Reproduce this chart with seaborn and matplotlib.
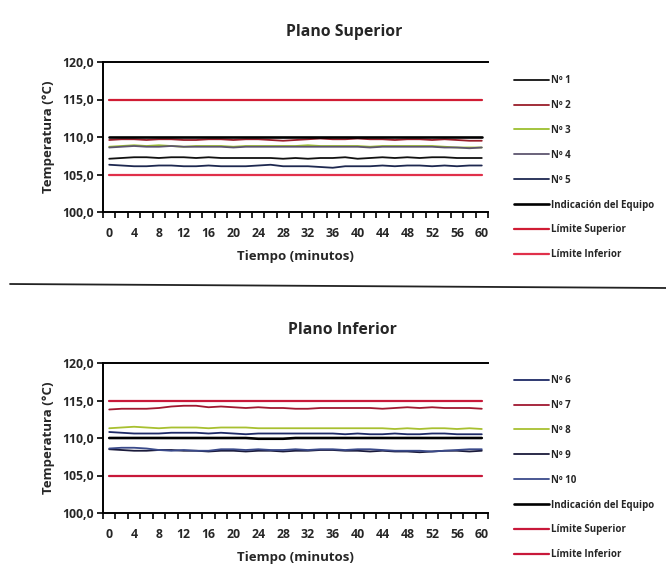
import numpy as np
import pandas as pd
import matplotlib
matplotlib.use("Agg")
import matplotlib.pyplot as plt
import seaborn as sns

# ---------------- data ----------------
minutos = list(range(0, 61, 2))  # 31 categories
tick_labels = [str(m) for m in range(0, 61, 4)]
y_ticks = [100, 105, 110, 115, 120]

# Plano Superior
n1 = [107.1, 107.2, 107.3, 107.3, 107.2, 107.3, 107.3, 107.2, 107.3, 107.2, 107.2, 107.2, 107.2, 107.2, 107.1, 107.2,
      107.1, 107.2, 107.2, 107.3, 107.1, 107.2, 107.3, 107.2, 107.3, 107.2, 107.3, 107.3, 107.2, 107.2, 107.2]
n2 = [109.6, 109.7, 109.7, 109.6, 109.7, 109.7, 109.6, 109.6, 109.7, 109.7, 109.6, 109.7, 109.7, 109.6, 109.5, 109.6,
      109.7, 109.8, 109.7, 109.7, 109.8, 109.7, 109.7, 109.6, 109.7, 109.7, 109.6, 109.7, 109.6, 109.5, 109.5]
n3 = [108.7, 108.8, 108.9, 108.8, 108.9, 108.8, 108.7, 108.8, 108.8, 108.8, 108.7, 108.8, 108.8, 108.8, 108.8, 108.8,
      108.9, 108.8, 108.8, 108.8, 108.8, 108.7, 108.8, 108.8, 108.8, 108.8, 108.8, 108.7, 108.6, 108.6, 108.6]
n4 = [108.6, 108.7, 108.8, 108.7, 108.7, 108.8, 108.7, 108.7, 108.7, 108.7, 108.6, 108.7, 108.7, 108.7, 108.7, 108.7,
      108.7, 108.7, 108.7, 108.7, 108.7, 108.6, 108.7, 108.7, 108.7, 108.7, 108.7, 108.6, 108.6, 108.5, 108.6]
n5 = [106.3, 106.2, 106.1, 106.1, 106.2, 106.2, 106.1, 106.1, 106.2, 106.1, 106.1, 106.1, 106.2, 106.3, 106.1, 106.1,
      106.1, 106.0, 105.9, 106.1, 106.1, 106.1, 106.2, 106.1, 106.2, 106.2, 106.1, 106.2, 106.1, 106.2, 106.2]
ind_sup = [110.0] * 31

# Plano Inferior
n6 = [110.8, 110.7, 110.6, 110.6, 110.6, 110.7, 110.7, 110.7, 110.6, 110.7, 110.6, 110.5, 110.6, 110.6, 110.6, 110.6,
      110.6, 110.6, 110.6, 110.5, 110.6, 110.5, 110.5, 110.6, 110.5, 110.5, 110.6, 110.6, 110.5, 110.5, 110.5]
n7 = [113.8, 113.9, 113.9, 113.9, 114.0, 114.2, 114.3, 114.3, 114.1, 114.2, 114.1, 114.0, 114.1, 114.0, 114.0, 113.9,
      113.9, 114.0, 114.0, 114.0, 114.0, 114.0, 113.9, 114.0, 114.1, 114.0, 114.1, 114.0, 114.0, 114.0, 113.9]
n8 = [111.3, 111.4, 111.5, 111.4, 111.3, 111.4, 111.4, 111.4, 111.3, 111.4, 111.4, 111.4, 111.3, 111.3, 111.3, 111.3,
      111.3, 111.3, 111.3, 111.3, 111.3, 111.3, 111.3, 111.2, 111.3, 111.2, 111.3, 111.3, 111.2, 111.3, 111.2]
n9 = [108.5, 108.4, 108.3, 108.3, 108.4, 108.4, 108.3, 108.3, 108.2, 108.3, 108.3, 108.2, 108.3, 108.3, 108.2, 108.3,
      108.3, 108.4, 108.4, 108.3, 108.3, 108.2, 108.3, 108.2, 108.2, 108.1, 108.2, 108.3, 108.3, 108.2, 108.3]
n10 = [108.6, 108.7, 108.7, 108.6, 108.4, 108.3, 108.4, 108.3, 108.3, 108.5, 108.5, 108.4, 108.5, 108.4, 108.4, 108.5,
       108.4, 108.5, 108.5, 108.4, 108.5, 108.5, 108.4, 108.3, 108.3, 108.3, 108.2, 108.3, 108.4, 108.5, 108.5]
ind_inf = [110.0, 110.0, 110.0, 110.0, 110.0, 110.0, 110.0, 110.0, 110.0, 110.0, 110.0, 110.0, 109.9, 109.9, 109.9, 110.0,
           110.0, 110.0, 110.0, 110.0, 110.0, 110.0, 110.0, 110.0, 110.0, 110.0, 110.0, 110.0, 110.0, 110.0, 110.0]

lim_sup = [115.0] * 31
lim_inf = [105.0] * 31

# ---------------- style ----------------
sns.set_theme(style="white")
plt.rcParams['font.family'] = ['Open Sans', 'DejaVu Sans']
plt.rcParams['font.weight'] = 'bold'

fig = plt.figure(figsize=(6.66, 5.83), dpi=100)


def draw_panel(ax, title, title_xy, series, legend_top_px):
    for name, vals, color, lw in series:
        df = pd.DataFrame({"Tiempo": minutos, "Temp": vals})
        sns.lineplot(data=df, x="Tiempo", y="Temp", ax=ax, color=color, linewidth=lw, label=name)
    ax.set_xlim(-1, 61)
    ax.set_ylim(100, 120)
    ax.set_yticks(y_ticks)
    ax.set_yticklabels([f"{v:.1f}".replace(".", ",") for v in y_ticks], fontsize=8.8, fontweight='bold')
    ax.set_xticks(list(range(0, 61, 4)))
    ax.set_xticklabels(tick_labels, fontsize=8.8, fontweight='bold')
    ax.set_xticks(list(range(-1, 62, 2)), minor=True)
    ax.tick_params(axis='x', which='major', length=0, pad=11)
    ax.tick_params(axis='x', which='minor', length=4, width=1.2, direction='out', color='black', bottom=True)
    ax.tick_params(axis='y', which='major', length=4, width=1.2, direction='out', color='black', left=True, pad=3)
    ax.set_xlabel("Tiempo (minutos)", fontsize=9.5, fontweight='bold', labelpad=7)
    ax.set_ylabel("Temperatura (°C)", fontsize=9.5, fontweight='bold', labelpad=5)
    for s in ['left', 'bottom', 'top']:
        ax.spines[s].set_visible(True)
        ax.spines[s].set_color('black')
        ax.spines[s].set_linewidth(1.4)
    ax.spines['right'].set_visible(False)
    ax.grid(False)
    fig.text(title_xy[0] / 666, 1 - title_xy[1] / 583, title, ha='center', va='center',
             fontsize=11.3, fontweight='bold')
    leg = ax.legend(loc='upper left', bbox_to_anchor=(514 / 666, 1 - legend_top_px / 583),
                    bbox_transform=fig.transFigure, frameon=False, fontsize=7,
                    handlelength=3.6, handletextpad=0.2, labelspacing=1.43, borderaxespad=0,
                    borderpad=0)
    for t in leg.get_texts():
        t.set_fontweight('bold')


ax1 = fig.add_axes([103 / 666, 1 - 212 / 583, 385 / 666, 150 / 583])
series_sup = [
    ("Nº 1", n1, "#111111", 1.3),
    ("Nº 2", n2, "#9a1e2a", 1.3),
    ("Nº 3", n3, "#9cbf2e", 1.3),
    ("Nº 4", n4, "#5e5670", 1.3),
    ("Nº 5", n5, "#1e2850", 1.3),
    ("Indicación del Equipo", ind_sup, "#000000", 1.9),
    ("Límite Superior", lim_sup, "#d01c34", 1.6),
    ("Límite Inferior", lim_inf, "#e0304a", 1.6),
]
draw_panel(ax1, "Plano Superior", (344, 32), series_sup, 75)

ax2 = fig.add_axes([103 / 666, 1 - 513 / 583, 385 / 666, 150 / 583])
series_inf = [
    ("Nº 6", n6, "#1e2a66", 1.3),
    ("Nº 7", n7, "#a01830", 1.3),
    ("Nº 8", n8, "#a8c030", 1.3),
    ("Nº 9", n9, "#1a1a3a", 1.3),
    ("Nº 10", n10, "#3a4a8a", 1.3),
    ("Indicación del Equipo", ind_inf, "#000000", 1.9),
    ("Límite Superior", lim_sup, "#c8183a", 1.6),
    ("Límite Inferior", lim_inf, "#c8183a", 1.6),
]
draw_panel(ax2, "Plano Inferior", (342, 330), series_inf, 375)

# separator line between the two panels
fig.add_artist(plt.Line2D([10 / 666, 1.0], [1 - 284 / 583, 1 - 288 / 583], transform=fig.transFigure,
                          color='#222222', linewidth=1.3))

fig.savefig("out.png", dpi=100)
